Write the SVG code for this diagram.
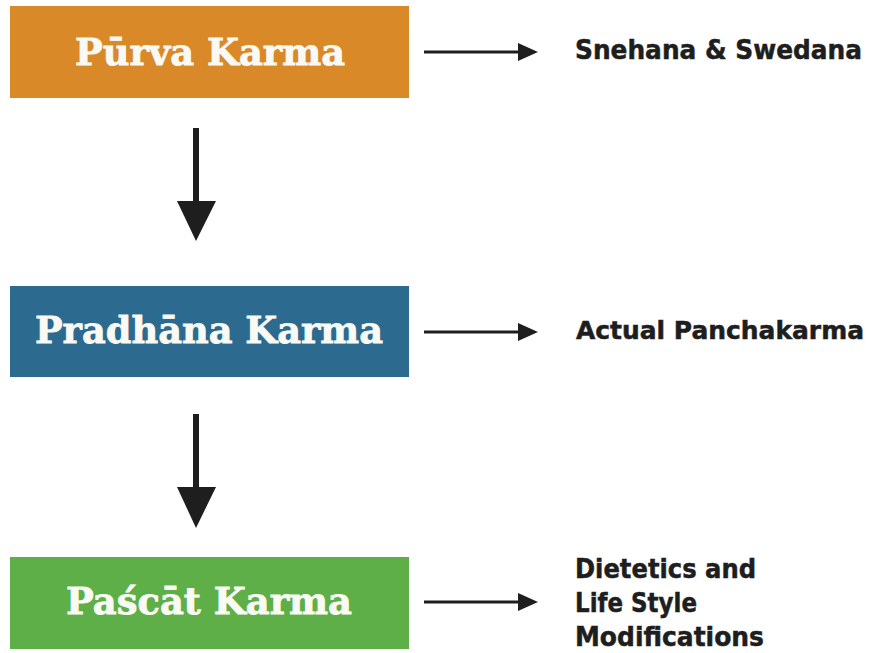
<svg xmlns="http://www.w3.org/2000/svg" width="874" height="653" viewBox="0 0 874 653">
<style>
.box{stroke:none}
.lbl{font-family:"DejaVu Serif","Liberation Serif",serif;font-weight:bold;font-size:37px;fill:#FAFAF5;stroke:#FAFAF5;stroke-width:0.8;text-anchor:start}
.side{font-family:"DejaVu Sans","Open Sans","Liberation Sans",sans-serif;font-weight:700;font-size:26px;fill:#1E1E1E;stroke:#1E1E1E;stroke-width:0.5}
.hline{stroke:#1E1E1E;stroke-width:3;fill:none}
.vline{stroke:#1E1E1E;stroke-width:6;fill:none}
.head{fill:#1E1E1E}
</style>
<rect width="874" height="653" fill="#FFFFFF"/>
<g id="purva">
<rect class="box" x="10" y="6" width="399" height="92" fill="#DA8928"/>
<text class="lbl" x="75" y="65" textLength="270" lengthAdjust="spacingAndGlyphs">Pūrva Karma</text>
</g>
<g id="pradhana">
<rect class="box" x="10" y="286" width="399" height="91" fill="#2D6A8F"/>
<text class="lbl" x="35" y="343" textLength="348" lengthAdjust="spacingAndGlyphs">Pradhāna Karma</text>
</g>
<g id="pascat">
<rect class="box" x="10" y="557" width="399" height="92" fill="#5EAF48"/>
<text class="lbl" x="66" y="614" textLength="286" lengthAdjust="spacingAndGlyphs">Paścāt Karma</text>
</g>
<g id="snehana">
<text class="side" x="575" y="59" textLength="287" lengthAdjust="spacingAndGlyphs">Snehana &amp; Swedana</text>
</g>
<g id="actual">
<text class="side" x="576" y="339" font-size="24" textLength="288" lengthAdjust="spacingAndGlyphs" style="font-size:24px">Actual Panchakarma</text>
</g>
<g id="dietetics">
<text class="side" x="575" y="578" textLength="181" lengthAdjust="spacingAndGlyphs">Dietetics and</text>
<text class="side" x="575" y="612" textLength="122" lengthAdjust="spacingAndGlyphs">Life Style</text>
<text class="side" x="575" y="646" textLength="189" lengthAdjust="spacingAndGlyphs">Modifications</text>
</g>
<g id="connectors">
<line class="vline" x1="196" y1="128" x2="196" y2="204"/>
<polygon class="head" points="177,201 216,201 196,241"/>
<line class="vline" x1="196" y1="414" x2="196" y2="490"/>
<polygon class="head" points="177,487 216,487 196,528"/>
<line class="hline" x1="424" y1="52" x2="522" y2="52"/>
<polygon class="head" points="518,43 538,52 518,61"/>
<line class="hline" x1="424" y1="332" x2="522" y2="332"/>
<polygon class="head" points="518,323 538,332 518,341"/>
<line class="hline" x1="424" y1="602" x2="522" y2="602"/>
<polygon class="head" points="518,593 538,602 518,611"/>
</g>
</svg>
